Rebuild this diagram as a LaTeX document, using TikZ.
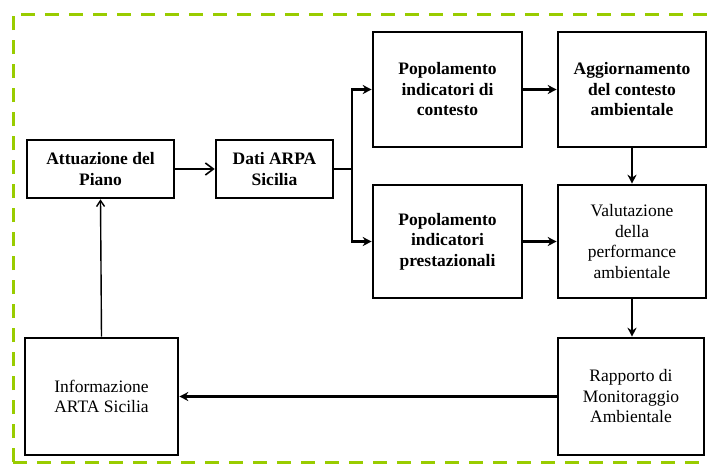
\documentclass[tikz,border=0pt]{standalone}
\usepackage{fontspec}
\setmainfont{Liberation Serif}
\usetikzlibrary{arrows.meta}
\definecolor{frameg}{RGB}{153,204,0}
\begin{document}
\begin{tikzpicture}[x=1pt,y=-1pt,
  box/.style={draw,line width=2.6pt,inner sep=2pt,align=center,font=\fontsize{17.5}{20.5}\selectfont},
  bbox/.style={box,font=\fontsize{17.5}{20.5}\selectfont\bfseries},
  conn/.style={line width=2.4pt,-{Stealth[length=9pt,width=9pt]}},
  line/.style={line width=2.6pt}]
\useasboundingbox (0,0) rectangle (707,464);
\draw[frameg,line width=3pt,dash pattern=on 14pt off 10pt] (13,462) -- (13,14) -- (720,14);
\draw[frameg,line width=3pt,dash pattern=on 14pt off 10pt] (13,462) -- (720,462);
\node[bbox,minimum width=147pt,minimum height=58pt] (att) at (100.5,169) {Attuazione del\\Piano};
\node[bbox,minimum width=117pt,minimum height=58pt] (dati) at (274.5,169) {Dati ARPA\\Sicilia};
\node[bbox,minimum width=149pt,minimum height=115pt] (pic) at (447.5,89.5) {Popolamento\\indicatori di\\contesto};
\node[bbox,minimum width=148pt,minimum height=115pt] (agg) at (632,89.5) {Aggiornamento\\del contesto\\ambientale};
\node[bbox,minimum width=149pt,minimum height=113pt] (pip) at (447.5,241.5) {Popolamento\\indicatori\\prestazionali};
\node[box,minimum width=148pt,minimum height=113pt] (val) at (632,241.5) {Valutazione\\della\\performance\\ambientale};
\node[box,minimum width=146pt,minimum height=117pt] (rap) at (631,396.5) {Rapporto di\\Monitoraggio\\Ambientale};
\node[box,minimum width=153pt,minimum height=117pt] (inf) at (101.5,396.5) {Informazione\\ARTA Sicilia};
\coordinate (split) at (352,169);
\draw[line width=2.6pt,-{Straight Barb[length=8pt,width=12pt,line width=1.6pt]}] (att) -- (dati);
\draw[line] (dati.east) -- (split);
\draw[conn] (split) |- (pic.west);
\draw[conn] (split) |- (pip.west);
\draw[conn] (pic) -- (agg);
\draw[conn] (pip) -- (val);
\draw[conn] (agg.south -| val.north) -- (val.north);
\draw[conn] (val.south) -- (val.south |- rap.north);
\draw[conn] (rap) -- (inf);
\draw[line width=1.4pt,-{Straight Barb[length=6pt,width=8pt,line width=1.4pt]}] (inf.north) -- (att.south);
\end{tikzpicture}
\end{document}
